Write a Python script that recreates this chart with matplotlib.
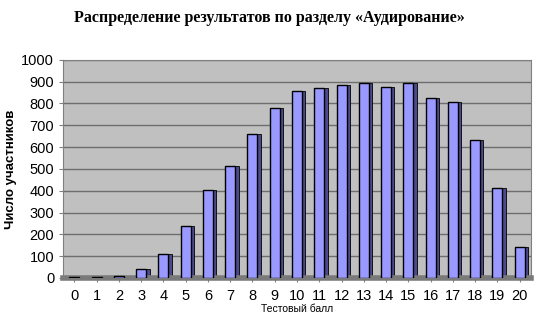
import matplotlib
matplotlib.use('Agg')
import matplotlib.pyplot as plt
import numpy as np

# scores and participant counts
scores = list(range(0, 21))
counts = [5, 3, 8, 40, 110, 240, 405, 515, 660, 780, 855, 870, 885, 895, 875, 895, 825, 805, 630, 410, 140]
yticks = [0, 100, 200, 300, 400, 500, 600, 700, 800, 900, 1000]

title = 'Распределение результатов по разделу «Аудирование»'
ylabel = 'Число участников'
xlabel = 'Тестовый балл'

fig = plt.figure(figsize=(5.5, 3.21), dpi=100)
ax = fig.add_axes([0.115, 0.134, 0.85, 0.68])
ax.set_facecolor('#c0c0c0')

x = np.array(scores)
w = 0.45
# dark side face to mimic the 3d look
ax.bar(x + w / 2 + 0.07, counts, width=0.16, color='#4a4a8c', edgecolor='black', linewidth=0.6, zorder=2)
ax.bar(x, counts, width=w, color='#9999ff', edgecolor='black', linewidth=1.0, zorder=3)

ax.set_xlim(-0.5, 20.5)
ax.set_ylim(0, 1000)
ax.set_yticks(yticks)
ax.set_xticks(scores)
ax.tick_params(axis='both', labelsize=10.5, length=3, color='#808080')
ax.tick_params(axis='x', pad=5)
ax.grid(axis='y', color='#6e6e6e', linewidth=1.0, zorder=1)
ax.set_axisbelow(True)
for s in ['top', 'right', 'left']:
    ax.spines[s].set_color('#808080')
ax.spines['bottom'].set_color('#7a7a7a')
ax.spines['bottom'].set_linewidth(4)

for lab in ax.get_xticklabels() + ax.get_yticklabels():
    lab.set_family('Liberation Sans')

ax.set_ylabel(ylabel, fontsize=9.5, fontweight='bold', family='Liberation Sans', labelpad=3)
ax.set_xlabel(xlabel, fontsize=7.5, family='Liberation Sans', labelpad=1)

fig.text(0.49, 0.945, title, ha='center', va='center', fontsize=11.5, fontweight='bold', family='Liberation Serif')

fig.savefig('out.png', dpi=100)
